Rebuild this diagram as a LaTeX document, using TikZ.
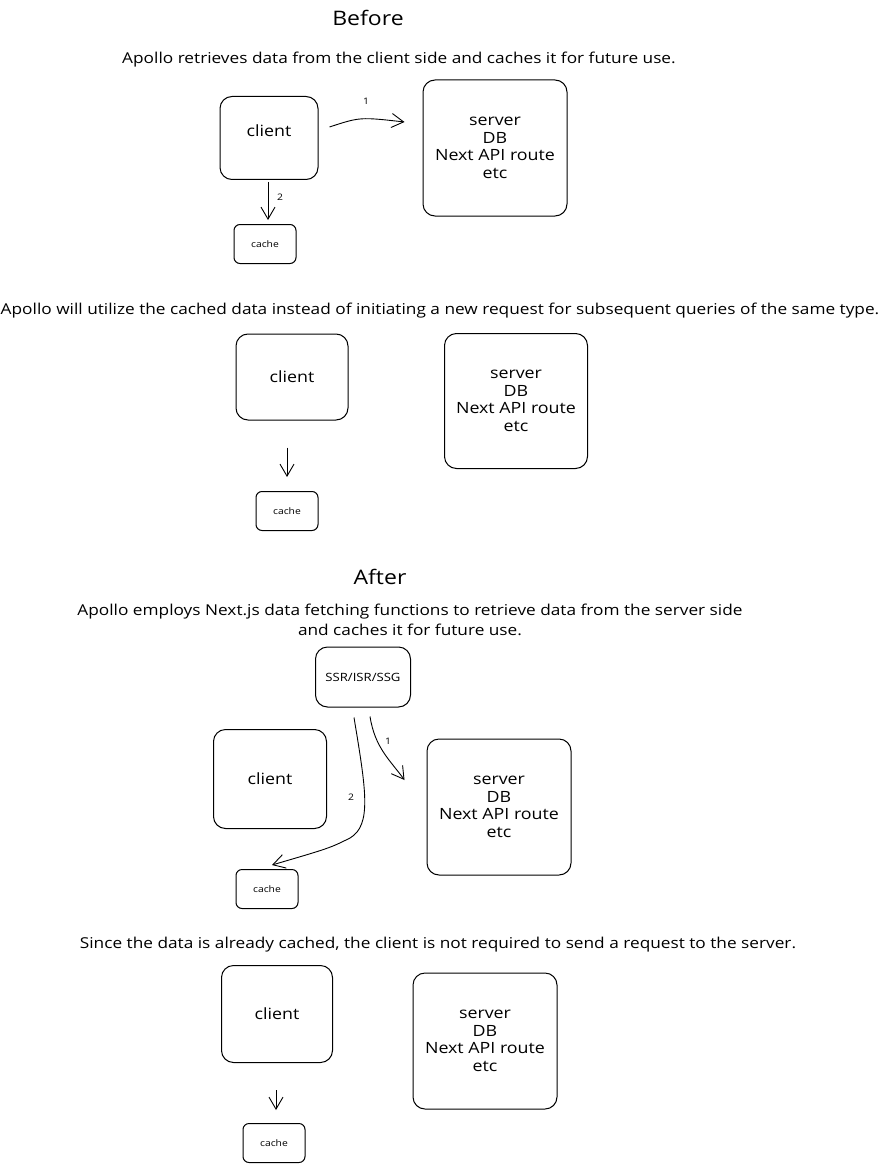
\documentclass[tikz,border=0pt]{standalone}
\usepackage{fontspec}
\setmainfont{Open Sans}[FakeStretch=1.15]
\usetikzlibrary{arrows.meta}
\tikzset{
  box/.style={draw,line width=1,rounded corners=12,align=center},
  cachebox/.style={draw,line width=1,rounded corners=6,minimum width=62,minimum height=39,font=\fontsize{9}{10}\selectfont},
  arr/.style={line width=0.9,-{Straight Barb[length=12,width=14]}},
  caption/.style={font=\fontsize{15}{20}\selectfont,align=center},
  heading/.style={font=\fontsize{20}{22}\selectfont},
  num/.style={font=\fontsize{9}{10}\selectfont}
}
\begin{document}
\begin{tikzpicture}[x=1pt,y=-1pt,every node/.style={font=\fontsize{15.5}{17.5}\selectfont}]
  \fill[white] (0,0) rectangle (880,1169);
  \useasboundingbox (0,0) rectangle (880,1169);
  % Before
  \node[heading] (before) at (368,18) {Before};
  \node[caption] (capA) at (399,60) {Apollo retrieves data from the client side and caches it for future use.};
  \node[box,minimum width=98,minimum height=83,text depth=14] (clientA) at (269,138) {client};
  \node[box,minimum width=144,minimum height=136] (serverA) at (495,148) {server\\DB\\Next API route\\etc};
  \node[cachebox] (cacheA) at (265,244) {cache};
  \draw[arr] ([shift={(11,-11)}]clientA.east) .. controls (360,117) .. ([shift={(-18,-26)}]serverA.west);
  \draw[arr] ([xshift=-1,yshift=-2]clientA.south) -- ([xshift=3,yshift=4]cacheA.north);
  \node[num] (oneA) at (366,101) {1};
  \node[num] (twoA) at (280,197) {2};
  % cached data is reused
  \node[caption] (capB) at (440,311) {Apollo will utilize the cached data instead of initiating a new request for subsequent queries of the same type.};
  \node[box,minimum width=112,minimum height=86] (clientB) at (292,377) {client};
  \node[box,minimum width=143,minimum height=135] (serverB) at (516,401) {server\\DB\\Next API route\\etc};
  \node[cachebox] (cacheB) at (287,511) {cache};
  \draw[arr] ([xshift=-5,yshift=-27]clientB.south) -- ([yshift=14]cacheB.north);
  % After
  \node[heading] (after) at (380,577) {After};
  \node[caption] (capC) at (410,620) {Apollo employs Next.js data fetching functions to retrieve data from the server side\\and caches it for future use.};
  \node[box,minimum width=95,minimum height=60,font=\fontsize{11.4}{12}\selectfont] (ssr) at (363,677) {SSR/ISR/SSG};
  \node[box,minimum width=113,minimum height=99] (clientC) at (270,779) {client};
  \node[box,minimum width=144,minimum height=136] (serverC) at (499,807) {server\\DB\\Next API route\\etc};
  \node[cachebox] (cacheC) at (267,889) {cache};
  \draw[arr] ([xshift=7,yshift=-9]ssr.south) .. controls (375,748) and (390,760) .. ([shift={(-22,-27)}]serverC.west);
  \draw[arr] ([xshift=-9,yshift=-10]ssr.south) .. controls (366,790) and (372,825) .. (350,838) .. controls (330,848) .. ([xshift=5,yshift=4]cacheC.north);
  \node[num] (oneC) at (388,741) {1};
  \node[num] (twoC) at (351,797) {2};
  % no request needed
  \node[caption] (capD) at (438,945) {Since the data is already cached, the client is not required to send a request to the server.};
  \node[box,minimum width=111,minimum height=97] (clientD) at (277,1014) {client};
  \node[box,minimum width=144,minimum height=136] (serverD) at (485,1041) {server\\DB\\Next API route\\etc};
  \node[cachebox] (cacheD) at (274,1143) {cache};
  \draw[arr] ([xshift=-1,yshift=-27]clientD.south) -- ([xshift=2,yshift=13]cacheD.north);
\end{tikzpicture}
\end{document}
